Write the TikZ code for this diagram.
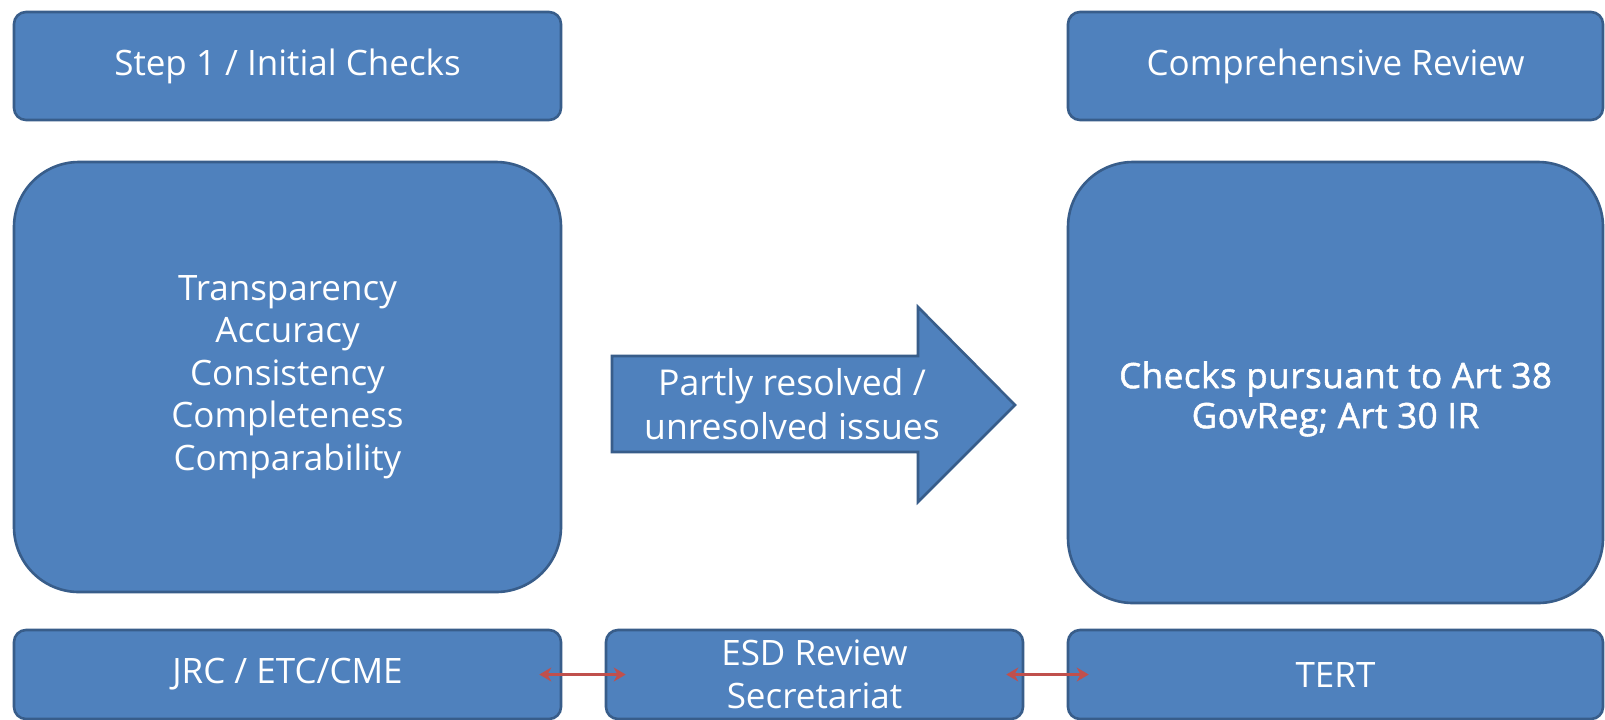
\documentclass[tikz,border=0pt]{standalone}
\usepackage{fontspec}
\setmainfont{Open Sans}
\newfontfamily\semib{Open Sans}[FakeBold=1.5,LetterSpace=1.5]
\usetikzlibrary{arrows.meta}
\definecolor{boxfill}{HTML}{4F81BD}
\definecolor{boxline}{HTML}{385D8A}
\definecolor{linkred}{HTML}{C0504D}
\tikzset{
  pbox/.style n args={3}{draw=boxline, line width=1.3pt, fill=boxfill, text=white,
    rounded corners=#3*0.5pt, minimum width=#1*0.5pt, minimum height=#2*0.5pt,
    inner sep=0pt, align=center, font=\fontsize{17.5}{21}\selectfont},
  link/.style={draw=linkred, line width=1.8pt, {Stealth[length=6pt,width=7pt]}-{Stealth[length=6pt,width=7pt]}},
  txt/.style={text=white, align=center, inner sep=0pt, font=\fontsize{17.5}{21}\selectfont}
}
\begin{document}
\begin{tikzpicture}[x=0.5pt,y=-0.5pt]
\useasboundingbox (0,0) rectangle (1605,719);
\fill[white] (0,0) rectangle (1605,719);
% top row
\node[pbox={547}{108}{12}] (step) at (287.5,66) {Step 1 / Initial Checks};
\node[pbox={535}{108}{12}] (comp) at (1335.5,66) {Comprehensive Review};
% big boxes
\node[pbox={547}{430}{65}, font=\fontsize{17.5}{21.2}\selectfont] (crit) at (287.5,377)
  {Transparency\\Accuracy\\Consistency\\Completeness\\Comparability};
\node[pbox={535}{441}{65}] (checks) at (1335.5,382.5) {};
\node[txt, font=\semib\fontsize{17.5}{20}\selectfont] (checkstext) at (1335.5,399)
  {Checks pursuant to Art 38\\GovReg; Art 30 IR};
% arrow
\draw[boxline, line width=1.3pt, fill=boxfill, line join=miter]
  (612,356) -- (918,356) -- (918,307) -- (1015,405) -- (918,502) -- (918,452) -- (612,452) -- cycle;
\node[txt, font=\fontsize{17.8}{22}\selectfont] (issues) at (792,404) {Partly resolved /\\unresolved issues};
% bottom row
\node[pbox={547}{89}{12}] (jrc) at (287.5,674.5) {JRC / ETC/CME};
\node[pbox={417}{89}{12}, font=\fontsize{17.5}{21.5}\selectfont] (esd) at (814.5,674.5) {\rule{0pt}{6pt}ESD Review\\Secretariat};
\node[pbox={535}{89}{12}] (tert) at (1335.5,674.5) {TERT};
% links
\draw[link, shorten <=-23*0.5pt, shorten >=-21*0.5pt] (jrc.east) -- (esd.west);
\draw[link, shorten <=-18*0.5pt, shorten >=-22*0.5pt] (esd.east) -- (tert.west);
\end{tikzpicture}
\end{document}
